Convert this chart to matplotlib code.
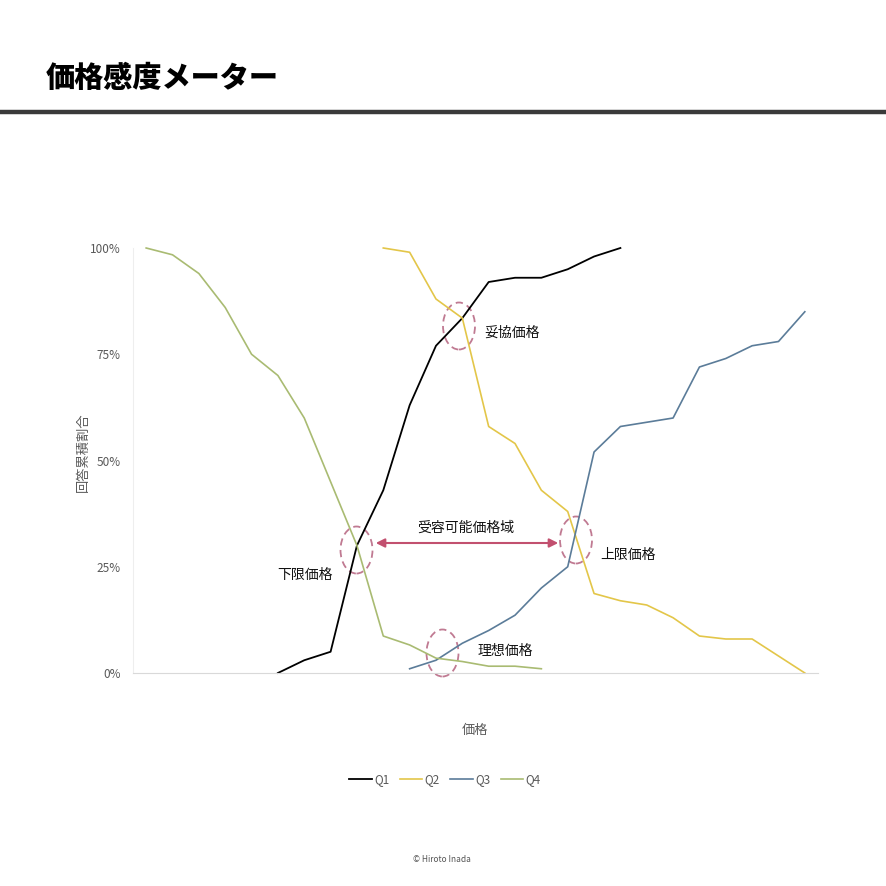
import numpy as np
import matplotlib
matplotlib.use("Agg")
import matplotlib.pyplot as plt
from matplotlib.patches import Ellipse, FancyArrowPatch

plt.rcParams['font.family'] = ['Noto Sans CJK JP', 'DejaVu Sans']

N = 26
categories = list(range(N))
# values in percent, index = price category; None = no data
q1 = [None]*5 + [0, 3, 5, 30, 43, 63, 77, 83.5, 92, 93, 93, 95, 98, 100] + [None]*7
q2 = [None]*9 + [100, 99, 88, 83.5, 58, 54, 43, 38, 18.7, 17, 16, 13, 8.7, 8, 8, 4, 0]
q3 = [None]*10 + [1, 3, 7, 10, 13.6, 20, 25, 52, 58, 59, 60, 72, 74, 77, 78, 85]
q4 = [100, 98.4, 94, 86, 75, 70, 60, 45, 30, 8.7, 6.6, 3.5, 2.7, 1.6, 1.6, 1] + [None]*10
series_names = ["Q1", "Q2", "Q3", "Q4"]
series_colors = ["#000000", "#e3c649", "#5b7c99", "#a9bb72"]
y_ticks = [0, 25, 50, 75, 100]
y_ticklabels = ["0%", "25%", "50%", "75%", "100%"]

fig = plt.figure(figsize=(8.86, 8.86), dpi=100)
W = H = 886.0

def fx(px):
    return px / W

def fy(py):
    return 1 - py / H

# title and rule
fig.text(fx(46), fy(78), "価格感度メーター", fontsize=21, fontweight='heavy',
         va='center', ha='left', color='#000000')
fig.add_artist(plt.Line2D([0, 1], [fy(112), fy(112)], color='#3a3a3a', lw=3.2,
                          transform=fig.transFigure))

ax = fig.add_axes([fx(133), fy(673), fx(818) - fx(133), fy(248) - fy(673)])

def to_arr(v):
    return np.array([np.nan if x is None else x for x in v], dtype=float)

for vals, name, col in zip([q1, q2, q3, q4], series_names, series_colors):
    ax.plot(categories, to_arr(vals), color=col, lw=1.3 if name == "Q1" else 1.2,
            label=name, clip_on=False)

ax.set_xlim(-0.5, N - 0.5)
ax.set_ylim(0, 100)
ax.set_yticks(y_ticks)
ax.set_yticklabels(y_ticklabels, color='#595959', fontsize=8.5)
ax.set_xticks([])
ax.tick_params(axis='y', length=0, pad=9)
for s in ['top', 'right']:
    ax.spines[s].set_visible(False)
ax.spines['left'].set_color('#eeeeee')
ax.spines['bottom'].set_color('#d9d9d9')

fig.text(fx(83), fy(452), "回答累積割合", rotation=90, fontsize=9.5, color='#595959',
         ha='center', va='center')
fig.text(fx(475), fy(730), "価格", fontsize=9.5, color='#595959', ha='center', va='center')

# annotations (in data coords)
ecol = '#c07a92'
def px2data(px, py):
    d = ax.transData.inverted().transform(fig.transFigure.transform((fx(px), fy(py))))
    return d

def dsize(wpx, hpx):
    a = ax.transData.inverted().transform((0, 0))
    b = ax.transData.inverted().transform((wpx, hpx))
    return abs(b[0] - a[0]), abs(b[1] - a[1])

circles = [(459, 326, "妥協価格", 484, 333, 'left'),
           (356.5, 550, "下限価格", 277, 575, 'left'),
           (576, 540, "上限価格", 600, 555, 'left'),
           (442.5, 653, "理想価格", 478, 651, 'left')]
ew, eh = dsize(32, 47)
for cx, cy, label, tx, ty, ha in circles:
    c = px2data(cx, cy)
    ax.add_patch(Ellipse(c, ew, eh, fill=False, edgecolor=ecol, lw=1.3,
                         linestyle=(0, (4, 2.5)), clip_on=False))
    t = px2data(tx, ty)
    ax.text(t[0], t[1], label, fontsize=10, ha=ha, va='center', color='#111111')

a0 = px2data(373, 543)
a1 = px2data(561, 543)
ax.add_patch(FancyArrowPatch(a0, a1, arrowstyle='<|-|>', mutation_scale=13,
                             color='#c2506f', lw=1.5, clip_on=False))
t = px2data(466, 528)
ax.text(t[0], t[1], "受容可能価格域", fontsize=10, ha='center', va='center', color='#111111')

leg = fig.legend(loc='center', bbox_to_anchor=(fx(445), fy(780)), ncol=4, frameon=False,
                 fontsize=8.5, handlelength=1.9, columnspacing=0.9, handletextpad=0.2,
                 labelcolor='#595959')

fig.text(fx(442), fy(859), "© Hiroto Inada", fontsize=6, color='#555555',
         ha='center', va='center')

fig.savefig("out.png", dpi=100, facecolor='white')
